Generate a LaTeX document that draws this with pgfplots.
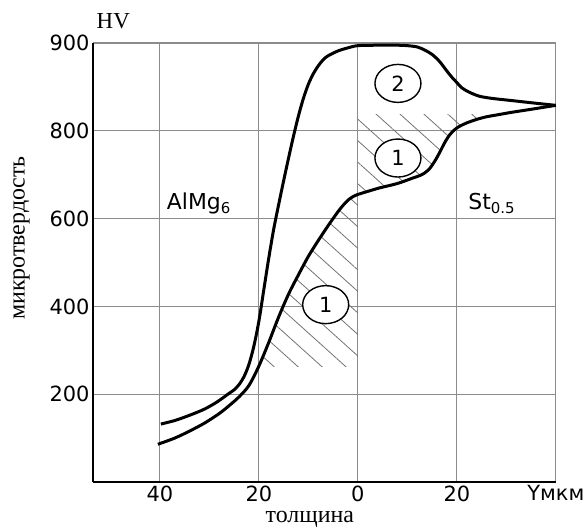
\documentclass[border=0pt]{standalone}
\usepackage{fontspec}
\setmainfont{Liberation Serif}
\newfontfamily\dv{DejaVu Sans}
\usepackage{pgfplots}
\pgfplotsset{compat=1.18}
\usepgfplotslibrary{fillbetween}
\usetikzlibrary{patterns.meta,shapes.geometric}

\newcommand\tickfont{\dv\fontsize{21}{24}\selectfont}

\pgfplotstableread[row sep=\\]{
x y\\
-40.4 0.43\\ -37 0.50\\ -34 0.58\\ -31 0.67\\ -28 0.78\\ -26 0.87\\ -24 0.97\\
-22 1.10\\ -20 1.32\\ -18 1.59\\ -16 1.88\\ -14 2.14\\ -12 2.36\\ -10 2.57\\
-8 2.75\\ -6 2.92\\ -4 3.08\\ -3 3.15\\ -2 3.21\\ -1 3.25\\ 0 3.275\\ 2 3.31\\
4.4 3.35\\ 8 3.40\\ 11 3.46\\ 12.5 3.49\\ 13.5 3.52\\ 14.5 3.57\\ 15.5 3.65\\
16.5 3.75\\ 17.5 3.86\\ 18.5 3.95\\ 19.5 4.01\\ 20.5 4.05\\ 22 4.09\\ 24 4.13\\
26 4.16\\ 28 4.18\\ 31 4.21\\ 35 4.245\\ 40 4.29\\
}\curveone

\pgfplotstableread[row sep=\\]{
x y\\
-39.8 0.66\\ -37 0.70\\ -34 0.76\\ -31 0.83\\ -28.5 0.91\\ -26 1.01\\ -25 1.05\\
-24 1.11\\ -23 1.20\\ -22 1.34\\ -21 1.55\\ -20 1.83\\ -19 2.19\\ -18 2.55\\
-17 2.88\\ -16 3.16\\ -15 3.43\\ -14 3.69\\ -13 3.94\\ -12 4.17\\ -11 4.37\\
-10 4.53\\ -9 4.65\\ -8 4.74\\ -7 4.81\\ -6 4.855\\ -4 4.91\\ -2 4.945\\ 0 4.97\\
4 4.975\\ 8 4.975\\ 10 4.97\\ 12 4.955\\ 13.5 4.92\\ 15 4.87\\ 16.5 4.79\\
18 4.68\\ 19 4.61\\ 20 4.55\\ 21 4.49\\ 22.5 4.44\\ 24.5 4.395\\ 27 4.37\\
31 4.345\\ 35 4.32\\ 40 4.29\\
}\curvetwo

\begin{document}
\begin{tikzpicture}
\begin{axis}[
  scale only axis, width=462.8bp, height=439bp,
  xmin=-53.5, xmax=40, ymin=0, ymax=5,
  axis lines=left,
  axis line style={-, line width=2.4bp, black},
  xtick={-40,-20,0,20,40}, xticklabels={40,20,0,20,Yмкм},
  ytick={1,2,3,4,5}, yticklabels={200,400,600,800,900},
  major tick length=0pt,
  grid=major, grid style={line width=1.1bp, black!45},
  ticklabel style={font=\tickfont},
  clip=false,
]
% invisible named paths
\addplot[name path=low, draw=none, smooth] table {\curveone};
\addplot[name path=b1, draw=none] coordinates {(-30,1.31) (0,1.31)};
\addplot[name path=b2, draw=none] coordinates {(0,4.19) (35,4.19)};

\addplot[draw=none, pattern={Lines[angle=-42, distance=16bp, line width=0.8bp]}, pattern color=black!55]
  fill between[of=low and b1, soft clip={domain=-20.1:0}];
\addplot[draw=none, pattern={Lines[angle=-42, distance=16bp, line width=0.8bp]}, pattern color=black!55]
  fill between[of=low and b2, soft clip={domain=0:28.5}];

% curve 2 (upper)
\addplot[black, line width=3bp, smooth, tension=0.5] table {\curvetwo};
% curve 1 (lower)
\addplot[black, line width=3bp, smooth, tension=0.5] table {\curveone};

\tikzset{lbl/.style={draw, ellipse, line width=1.4bp, fill=white, minimum width=46bp,
  minimum height=38bp, inner sep=0pt, font=\tickfont}}
\node[lbl] at (axis cs:8.1,4.54) {2};
\node[lbl] at (axis cs:8.1,3.69) {1};
\node[lbl] at (axis cs:-6.5,2.02) {1};

\node[anchor=base west, font=\dv\fontsize{22}{24}\selectfont, inner sep=0pt]
  at (axis cs:-38.6,3.10) {AlMg\raisebox{-4bp}{\fontsize{15}{15}\selectfont 6}};
\node[anchor=base west, font=\dv\fontsize{22}{24}\selectfont, inner sep=0pt]
  at (axis cs:22.3,3.10) {St\raisebox{-4bp}{\fontsize{15}{15}\selectfont 0.5}};

\node[anchor=base west, inner sep=0pt, font=\fontsize{23}{23}\selectfont]
  at (axis cs:-52.8,5.17) {HV};
\node[anchor=base, inner sep=0pt, font=\fontsize{24}{24}\selectfont]
  at (axis cs:-9.7,-0.465) {толщина};
\node[anchor=base, rotate=90, inner sep=0pt, font=\fontsize{24}{24}\selectfont]
  at (axis cs:-67.3,2.78) {микротвердость};

\coordinate (BBsw) at (axis cs:-72.3,-0.535);
\coordinate (BBne) at (axis cs:46.5,5.49);
\end{axis}
\pgfresetboundingbox
\useasboundingbox (BBsw) rectangle (BBne);
\end{tikzpicture}
\end{document}
